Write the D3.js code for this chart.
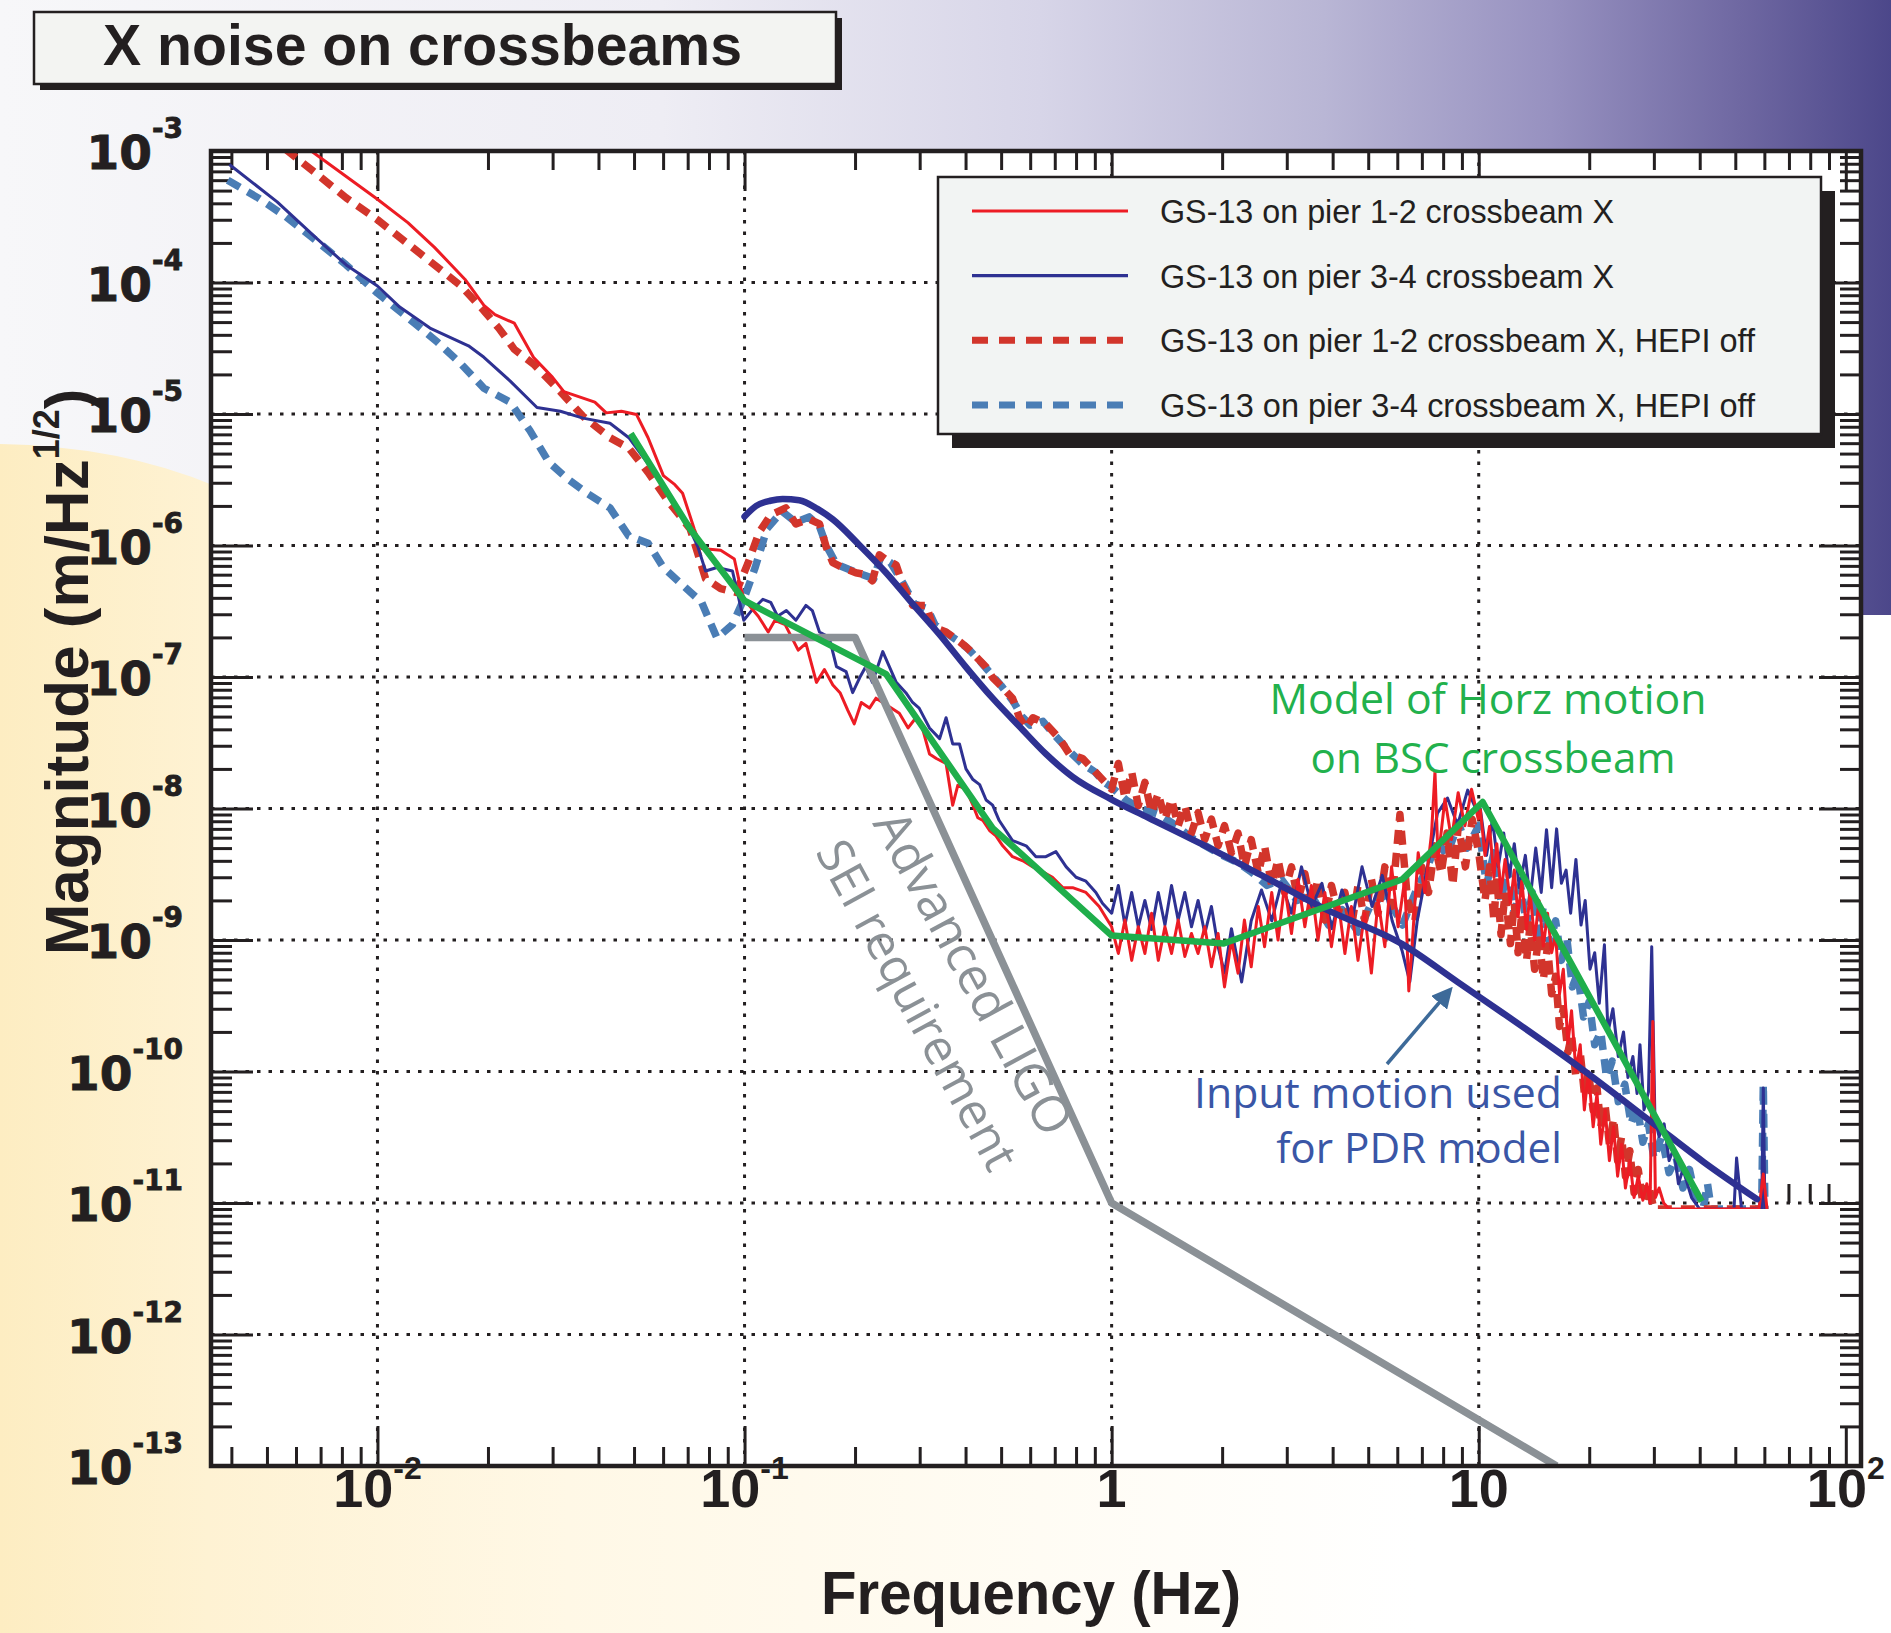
<!DOCTYPE html>
<html>
<head>
<meta charset="utf-8">
<script src="https://cdn.jsdelivr.net/npm/d3@7"></script>
<style>
  html, body { margin: 0; padding: 0; background: #fff; }
  svg { display: block; }
</style>
</head>
<body>
<div id="chart"></div>
<script>
// X noise on crossbeams - GS-13 spectra, values as [Hz, m/rtHz]

const RED_12 = [
  [0.0066,1.0e-3],[0.0100,4.3e-4],[0.0121,2.85e-4],[0.0143,1.85e-4],[0.0173,1.06e-4],[0.0195,6.7e-5],
  [0.0209,5.7e-5],[0.0236,4.9e-5],[0.0266,2.7e-5],[0.030,1.9e-5],[0.0322,1.48e-5],[0.0391,1.23e-5],
  [0.042,1.02e-5],[0.0462,1.05e-5],[0.0508,9.9e-6],[0.0546,6.6e-6],[0.0601,3.4e-6],[0.0646,2.9e-6],
  [0.0678,2.5e-6],[0.0729,1.34e-6],[0.0764,9.5e-7],[0.0861,9.2e-7],[0.0938,7.9e-7],[0.0972,5.0e-7],
  [0.100,3.8e-7],[0.103,3.5e-7],[0.109,2.9e-7],[0.116,2.2e-7],[0.121,2.7e-7],[0.129,2.5e-7],
  [0.140,1.6e-7],[0.147,1.8e-7],[0.157,9.1e-8],[0.165,1.14e-7],[0.174,8.7e-8],[0.182,7.6e-8],
  [0.191,5.6e-8],[0.199,4.4e-8],[0.208,6.4e-8],[0.219,5.8e-8],[0.228,6.9e-8],[0.238,6.4e-8],
  [0.251,5.8e-8],[0.264,5.3e-8],[0.279,4.1e-8],[0.293,4.9e-8],[0.305,4.1e-8],[0.319,2.6e-8],
  [0.333,2.4e-8],[0.354,2.2e-8],[0.369,1.06e-8],[0.381,1.5e-8],[0.401,1.4e-8],[0.419,1.06e-8],
  [0.432,8.5e-9],[0.446,8.1e-9],[0.465,6.8e-9],[0.484,6.2e-9],[0.505,5.2e-9],[0.537,4.3e-9],
  [0.573,4.0e-9],[0.61,3.6e-9],[0.649,3.3e-9],[0.69,3.0e-9],[0.736,2.5e-9],[0.783,2.5e-9],
  [0.851,2.3e-9],[0.925,1.8e-9],
  [1.0,1.26e-9],[1.043,7.9e-10],[1.087,1.42e-9],[1.134,7.0e-10],[1.182,1.26e-9],[1.232,7.9e-10],
  [1.285,1.6e-9],[1.34,7.0e-10],[1.397,1.26e-9],[1.456,7.9e-10],[1.518,1.42e-9],[1.583,7.5e-10],
  [1.65,1.12e-9],[1.72,7.9e-10],[1.794,1.26e-9],[1.87,6.25e-10],[1.95,1.12e-9],[2.03,4.4e-10],
  [2.12,1.0e-9],[2.21,5.6e-10],[2.30,1.42e-9],[2.40,6.25e-10],[2.51,1.8e-9],[2.61,8.9e-10],
  [2.73,2.3e-9],[2.84,1.0e-9],[2.96,2.6e-9],[3.09,1.12e-9],[3.22,2.9e-9],[3.36,1.26e-9],
  [3.50,2.6e-9],[3.65,1.0e-9],[3.81,2.3e-9],[3.97,8.9e-10],[4.14,2.0e-9],[4.32,7.9e-10],
  [4.50,1.8e-9],[4.69,7.0e-10],[4.89,1.6e-9],[5.10,5.6e-10],[5.32,2.0e-9],[5.55,8.9e-10],
  [5.79,3.6e-9],[6.03,1.26e-9],[6.29,2.9e-9],[6.45,4.1e-10],[6.6,1.0e-9],[6.84,4.6e-9],
  [7.13,2.3e-9],[7.44,6.5e-9],[7.6,1.9e-8],[7.75,4.1e-9],[8.09,1.18e-8],[8.43,5.8e-9],
  [8.79,1.32e-8],[9.17,7.4e-9],[9.56,1.4e-8],[9.97,8.3e-9],
  [10.1,9.8e-9],[10.4,4.4e-9],[10.7,7.3e-9],[11.0,3.0e-9],[11.2,5.4e-9],[11.5,2.3e-9],
  [11.8,4.1e-9],[12.2,1.9e-9],[12.5,3.4e-9],[12.8,1.5e-9],[13.1,2.8e-9],[13.5,1.2e-9],
  [13.8,2.3e-9],[14.2,1.0e-9],[14.6,2.0e-9],[15.0,9e-10],[15.4,1.6e-9],[15.8,8e-10],
  [16.2,1.1e-9],[16.6,3.9e-10],[17.0,6e-10],[17.5,1.64e-10],[17.9,2.9e-10],[18.4,1.0e-10],
  [18.9,1.6e-10],[19.4,5.1e-11],[19.9,1.0e-10],[20.5,3.8e-11],[21.0,6.8e-11],[21.5,2.8e-11],
  [22.1,5.1e-11],[22.7,2.1e-11],[23.3,3.8e-11],[23.9,1.6e-11],[24.5,2.8e-11],[25.1,1.3e-11],
  [25.8,2.1e-11],[26.5,1.1e-11],[27.2,1.6e-11],[28,1.05e-11],[28.7,1.4e-11],[29.3,1.0e-11],
  [29.8,2.4e-10],[30.3,1.1e-11],[31,1.3e-11],[31.9,1.0e-11],[33,9e-12],[58,9e-12],[59.6,1.66e-11],[61,9e-12]
];

const BLUE_34 = [
  [0.00395,7.9e-4],[0.00533,4.1e-4],[0.00678,2.2e-4],[0.00822,1.36e-4],[0.0100,9.4e-5],[0.0115,6.5e-5],
  [0.0139,4.5e-5],[0.0177,3.3e-5],[0.0195,2.7e-5],[0.0230,1.78e-5],[0.0272,1.12e-5],[0.0315,1.05e-5],
  [0.0363,9.3e-6],[0.0430,8.5e-6],[0.0484,6.6e-6],[0.0560,3.8e-6],[0.0631,2.3e-6],[0.0695,1.5e-6],
  [0.0746,9.8e-7],[0.0783,6.4e-7],[0.0841,6.8e-7],[0.0927,6.4e-7],[0.0995,2.7e-7],[0.1045,3.2e-7],
  [0.1122,3.9e-7],[0.1178,3.7e-7],[0.123,2.9e-7],[0.130,3.2e-7],[0.138,2.7e-7],[0.147,3.5e-7],
  [0.153,3.2e-7],[0.160,2.2e-7],[0.170,2.0e-7],[0.178,1.2e-7],[0.189,1.1e-7],[0.197,7.6e-8],
  [0.206,9.9e-8],[0.214,1.2e-7],[0.223,9.1e-8],[0.238,1.56e-7],[0.248,1.2e-7],[0.259,9.1e-8],
  [0.275,7.6e-8],[0.287,6.4e-8],[0.299,5.8e-8],[0.319,4.1e-8],[0.340,3.4e-8],[0.354,4.9e-8],
  [0.369,3.1e-8],[0.385,3.1e-8],[0.401,2.0e-8],[0.419,1.66e-8],[0.437,1.52e-8],[0.455,1.16e-8],
  [0.474,1.06e-8],[0.494,8.1e-9],[0.537,5.7e-9],[0.585,5.2e-9],[0.622,4.3e-9],[0.662,4.3e-9],
  [0.705,4.7e-9],[0.752,3.6e-9],[0.80,3.0e-9],[0.851,2.8e-9],[0.906,2.3e-9],[0.944,1.9e-9],
  [1.0,1.6e-9],[1.043,2.6e-9],[1.087,1.3e-9],[1.134,2.3e-9],[1.182,1.26e-9],[1.232,2.0e-9],
  [1.285,1.2e-9],[1.34,2.3e-9],[1.397,1.3e-9],[1.456,2.6e-9],[1.518,1.42e-9],[1.583,2.3e-9],
  [1.65,1.26e-9],[1.72,2.0e-9],[1.794,1.12e-9],[1.87,1.8e-9],[1.95,8.9e-10],[2.03,5.6e-10],
  [2.12,1.22e-9],[2.26,4.8e-10],[2.40,1.4e-9],[2.56,2.4e-9],[2.73,1.4e-9],[2.90,2.7e-9],
  [3.09,1.6e-9],[3.29,3.6e-9],[3.51,1.8e-9],[3.74,2.7e-9],[3.98,1.22e-9],[4.24,2.4e-9],
  [4.52,1.4e-9],[4.81,3.6e-9],[5.12,1.8e-9],[5.46,3.1e-9],[5.81,1.4e-9],[6.19,8.2e-10],
  [6.49,4.8e-10],[6.80,1.4e-9],[7.25,3.6e-9],[7.72,9.2e-9],[8.22,1.2e-8],[8.76,7.5e-9],
  [9.33,1.38e-8],[9.94,9.2e-9],
  [10.1,1.0e-8],[10.5,4.4e-9],[10.9,8.2e-9],[11.3,3.6e-9],[11.7,6.5e-9],[12.1,3.0e-9],
  [12.5,5.4e-9],[12.9,2.5e-9],[13.4,4.4e-9],[13.8,2.0e-9],[14.3,5.0e-9],[14.8,2.3e-9],
  [15.3,6.9e-9],[15.8,2.5e-9],[16.3,7.0e-9],[16.8,2.7e-9],[17.3,3.4e-9],[17.8,1.6e-9],
  [18.4,4.1e-9],[19.0,1.3e-9],[19.5,2.0e-9],[20.1,6e-10],[20.7,8e-10],[21.3,3.3e-10],
  [22.0,9.2e-10],[22.5,2.0e-10],[23.2,3.0e-10],[24,1.3e-10],[24.8,2.0e-10],[25.5,9e-11],
  [26.3,1.3e-10],[27.0,6.8e-11],[27.5,1.6e-10],[28.2,5.1e-11],[29.0,7e-11],[29.6,8.9e-10],
  [30.2,4.4e-11],[31,3.2e-11],[32,4.0e-11],[33,2.1e-11],[34,2.6e-11],[35,1.4e-11],
  [36,1.8e-11],[38,1.1e-11],[40,9e-12],[49.6,9e-12],[50.4,2.2e-11],[52,9e-12],
  [59,9e-12],[59.6,7.5e-11],[60.2,9e-12]
];

const RED_12_OFF = [
  [0.0056,1.04e-3],[0.00678,6.8e-4],[0.00822,4.4e-4],[0.0100,3.0e-4],[0.0121,1.97e-4],[0.0139,1.45e-4],
  [0.0169,9.4e-5],[0.0195,6.1e-5],[0.0214,4.5e-5],[0.0236,3.1e-5],[0.0266,2.4e-5],[0.0315,1.48e-5],
  [0.0363,9.6e-6],[0.0430,6.6e-6],[0.0484,5.5e-6],[0.0546,3.6e-6],[0.0617,2.2e-6],[0.0711,1.34e-6],
  [0.0783,5.6e-7],[0.0861,4.7e-7],[0.0948,4.4e-7],[0.1019,7.2e-7],[0.1096,1.26e-6],[0.1178,1.71e-6],
  [0.1296,1.93e-6],[0.138,1.46e-6],[0.150,1.59e-6],[0.160,1.46e-6],[0.167,9.7e-7],[0.174,7.4e-7],
  [0.185,6.8e-7],[0.201,6.2e-7],[0.214,6.0e-7],[0.223,5.4e-7],[0.233,8.5e-7],[0.243,7.8e-7],
  [0.259,7.1e-7],[0.270,5.0e-7],[0.287,3.5e-7],[0.313,3.5e-7],[0.326,2.4e-7],[0.354,2.2e-7],
  [0.385,1.86e-7],[0.401,1.7e-7],[0.428,1.42e-7],[0.455,1.19e-7],[0.474,9.9e-8],[0.505,8.3e-8],
  [0.537,6.9e-8],[0.561,4.9e-8],[0.585,4.1e-8],[0.61,4.9e-8],[0.662,4.4e-8],[0.721,3.4e-8],
  [0.767,2.6e-8],[0.834,2.4e-8],[0.887,2.0e-8],[0.944,1.66e-8],
  [1.0,1.4e-8],[1.043,2.2e-8],[1.087,1.2e-8],[1.134,1.9e-8],[1.182,1.05e-8],[1.232,1.58e-8],
  [1.285,9.3e-9],[1.34,1.3e-8],[1.397,8.3e-9],[1.456,1.18e-8],[1.518,7.4e-9],[1.583,1.05e-8],
  [1.65,6.5e-9],[1.72,9.3e-9],[1.794,5.8e-9],[1.87,8.3e-9],[1.95,5.2e-9],[2.03,7.4e-9],
  [2.12,4.6e-9],[2.21,6.5e-9],[2.30,3.6e-9],[2.40,5.8e-9],[2.51,3.2e-9],[2.61,5.2e-9],
  [2.73,2.6e-9],[2.84,4.1e-9],[2.96,2.3e-9],[3.09,3.6e-9],[3.22,2.0e-9],[3.36,3.2e-9],
  [3.50,1.8e-9],[3.65,2.9e-9],[3.81,1.42e-9],[3.97,2.6e-9],[4.14,1.6e-9],[4.32,2.3e-9],
  [4.50,1.26e-9],[4.69,2.6e-9],[4.89,1.42e-9],[5.10,2.9e-9],[5.32,1.6e-9],[5.55,3.6e-9],
  [5.79,1.8e-9],[6.1,9e-9],[6.4,2.0e-9],[6.7,1.4e-9],[7.0,3.6e-9],[7.3,2.3e-9],
  [7.6,5.2e-9],[7.9,3.2e-9],[8.2,6.5e-9],[8.5,2.6e-9],[8.8,7.4e-9],[9.2,3.6e-9],
  [9.6,8.3e-9],[10.0,4.6e-9],
  [10.4,2.0e-9],[10.7,3.6e-9],[11.0,1.4e-9],[11.2,3.0e-9],[11.5,1.1e-9],[11.8,2.3e-9],
  [12.2,9.4e-10],[12.5,1.9e-9],[12.8,8e-10],[13.1,1.6e-9],[13.5,7e-10],[13.8,1.3e-9],
  [14.2,6e-10],[14.6,1.1e-9],[15.0,5e-10],[15.4,9e-10],[15.8,3.9e-10],[16.2,5.3e-10],
  [16.6,2.2e-10],[17.0,3.0e-10],[17.5,1.4e-10],[17.9,1.9e-10],[18.4,9e-11],[18.9,1.4e-10],
  [19.4,6.8e-11],[19.9,1.0e-10],[20.5,5.1e-11],[21.0,7.5e-11],[21.5,3.8e-11],[22.1,5.5e-11],
  [22.7,2.8e-11],[23.3,4.4e-11],[23.9,2.1e-11],[24.5,3.2e-11],[25.1,1.6e-11],[25.8,2.5e-11],
  [26.5,1.2e-11],[27.2,1.8e-11],[28,1.0e-11],[29,1.4e-11],[30,9e-12],[60,9e-12]
];

const BLUE_34_OFF = [
  [0.00391,6.0e-4],[0.00473,4.4e-4],[0.0056,3.2e-4],[0.00678,2.1e-4],[0.00822,1.36e-4],[0.0100,8.3e-5],
  [0.0121,5.4e-5],[0.0146,3.5e-5],[0.0169,2.4e-5],[0.0195,1.57e-5],[0.0230,1.23e-5],[0.0260,7.5e-6],
  [0.0293,4.3e-6],[0.0330,3.2e-6],[0.0372,2.5e-6],[0.0430,1.93e-6],[0.0484,1.18e-6],[0.0546,1.04e-6],
  [0.0601,6.8e-7],[0.0678,5.0e-7],[0.0764,3.7e-7],[0.0841,1.98e-7],[0.0927,2.5e-7],[0.0995,3.9e-7],
  [0.1069,6.8e-7],[0.1151,1.34e-6],[0.1265,1.82e-6],[0.138,1.5e-6],[0.150,1.65e-6],[0.160,1.4e-6],
  [0.167,1.0e-6],[0.178,7.2e-7],[0.192,6.6e-7],[0.21,6.0e-7],[0.225,5.6e-7],[0.235,8.2e-7],
  [0.25,7.4e-7],[0.27,5.2e-7],[0.29,3.6e-7],[0.315,3.3e-7],[0.33,2.5e-7],[0.36,2.1e-7],
  [0.39,1.8e-7],[0.41,1.6e-7],[0.44,1.3e-7],[0.47,1.05e-7],[0.5,8.6e-8],[0.54,6.5e-8],
  [0.57,5.0e-8],[0.6,4.3e-8],[0.65,4.6e-8],[0.7,3.6e-8],[0.77,2.7e-8],[0.83,2.2e-8],
  [0.9,1.9e-8],[0.95,1.6e-8],[1.0,1.45e-8],[1.1,1.15e-8],[1.2,1.0e-8],[1.35,9.0e-9],
  [1.5,7.4e-9],[1.65,6.0e-9],[1.8,5.2e-9],[2.0,4.4e-9],[2.2,3.9e-9],[2.4,3.3e-9],
  [2.65,2.6e-9],[2.9,2.9e-9],[3.2,2.0e-9],[3.5,2.2e-9],[3.9,1.3e-9],[4.25,1.7e-9],
  [4.7,1.15e-9],[5.1,1.9e-9],[5.6,2.2e-9],[6.2,1.3e-9],[6.8,2.5e-9],[7.2,3.4e-9],
  [7.7,5.6e-9],[8.2,4.4e-9],[8.8,7.8e-9],[9.3,5.0e-9],[10,7.4e-9],
  [10.1,6.0e-9],[10.5,2.6e-9],[11.0,4.6e-9],[11.5,2.0e-9],[12.0,3.6e-9],[12.5,1.6e-9],
  [13.0,2.6e-9],[13.5,1.3e-9],[14.0,2.3e-9],[14.5,1.1e-9],[15.0,1.8e-9],[15.6,9.4e-10],
  [16.2,1.4e-9],[16.8,7.0e-10],[17.4,1.0e-9],[18.0,4.4e-10],[18.6,5.6e-10],[19.3,2.6e-10],
  [20.0,3.4e-10],[20.7,1.6e-10],[21.5,2.0e-10],[22.3,9e-11],[23.1,1.2e-10],[24.0,5.9e-11],
  [25.0,8.0e-11],[26.0,4.0e-11],[27.0,5.5e-11],[28.0,2.9e-11],[29.0,4.0e-11],[30,2.2e-11],
  [31.5,3.2e-11],[33,1.7e-11],[34.5,2.2e-11],[36,1.3e-11],[37.5,1.8e-11],[39,1.1e-11],
  [40.4,7.5e-12],[42,1.4e-11],[43,9e-12],[59,9e-12],[59.6,8e-11],[60.2,9e-12]
];

// input motion used for PDR model (smooth)
const PDR_INPUT = [
  [0.1,1.66e-6],[0.1076,2.0e-6],[0.1175,2.19e-6],[0.127,2.26e-6],[0.141,2.21e-6],[0.158,1.9e-6],
  [0.174,1.58e-6],[0.206,1.0e-6],[0.243,6.2e-7],[0.287,3.6e-7],[0.34,2.1e-7],[0.40,1.2e-7],
  [0.474,6.9e-8],[0.561,4.2e-8],[0.662,2.6e-8],[0.783,1.74e-8],[1.0,1.17e-8],[1.26,8.5e-9],
  [1.75,5.4e-9],[2.51,3.2e-9],[3.85,1.7e-9],[6.19,9.3e-10],[8.75,4.8e-10],[11.6,2.8e-10],
  [18.7,1.09e-10],[30,4.0e-11],[41.1,2.04e-11],[57.3,1.07e-11]
];

// model of horizontal motion on BSC crossbeam
const HORZ_MODEL = [
  [0.049,7.1e-6],[0.071,1.34e-6],[0.1,3.8e-7],[0.243,1.05e-7],[0.474,7.1e-9],[1.0,1.08e-9],
  [2.02,9.4e-10],[6.2,2.9e-9],[10.25,1.12e-8],[40.5,1.03e-11]
];

// Advanced LIGO SEI requirement
const SEI_REQ = [[0.1,2e-7],[0.2,2e-7],[1,1e-11],[16.3,1e-13]];

const X_DECADES = [0.01, 0.1, 1, 10, 100];
const X_LABELS = [['10','-2'],['10','-1'],['1',''],['10',''],['10','2']];
const Y_EXPONENTS = [-3,-4,-5,-6,-7,-8,-9,-10,-11,-12,-13];
const OLD_AXIS_TICKS = [70, 80, 90];   // leftover ticks of the original 1e-11 axis

const LEGEND = [
  {name: 'GS-13 on pier 1-2 crossbeam X', color: '#ed1c24', width: 3, dash: null},
  {name: 'GS-13 on pier 3-4 crossbeam X', color: '#2e3192', width: 3, dash: null},
  {name: 'GS-13 on pier 1-2 crossbeam X, HEPI off', color: '#d2352b', width: 7.5, dash: '14,9'},
  {name: 'GS-13 on pier 3-4 crossbeam X, HEPI off', color: '#4a7db5', width: 7.5, dash: '14,9'}
];

const W = 1891, H = 1633;
const P = {left: 211, right: 1861, top: 151, bottom: 1466};
const INK = '#231f20';
const NARROW = '"Liberation Sans Narrow", "Liberation Sans", Arial, sans-serif';
const HUMAN = '"Open Sans", Lato, "Noto Sans", sans-serif';

const x = d3.scaleLog().domain([0.00352, 110]).range([P.left, P.right]);
const y = d3.scaleLog().domain([1e-13, 1e-3]).range([P.bottom, P.top]);

const svg = d3.select('#chart').append('svg')
  .attr('width', W).attr('height', H);

const defs = svg.append('defs');

const topGrad = defs.append('linearGradient').attr('id', 'topGrad')
  .attr('gradientUnits', 'userSpaceOnUse').attr('x1', 0).attr('x2', W).attr('y1', 0).attr('y2', 0);
[[0,'#f7f7f9'],[0.35,'#eeedf4'],[0.55,'#d7d5e8'],[0.7,'#b9b6d5'],[0.82,'#9791c0'],[0.92,'#6f68a2'],[1,'#4c478a']]
  .forEach(s => topGrad.append('stop').attr('offset', s[0]).attr('stop-color', s[1]));

const creamGrad = defs.append('linearGradient').attr('id', 'creamGrad')
  .attr('gradientUnits', 'userSpaceOnUse').attr('x1', 0).attr('x2', W).attr('y1', 0).attr('y2', 0);
[[0,'#fdedc2'],[0.11,'#fef2d3'],[0.3,'#fff8e6'],[0.55,'#fffcf4'],[0.75,'#ffffff']]
  .forEach(s => creamGrad.append('stop').attr('offset', s[0]).attr('stop-color', s[1]));

defs.append('clipPath').attr('id', 'plotClip').append('rect')
  .attr('x', P.left).attr('y', P.top).attr('width', P.right - P.left).attr('height', P.bottom - P.top);
// the measured spectra were plotted on an axis that stopped at 1e-11
defs.append('clipPath').attr('id', 'dataClip').append('rect')
  .attr('x', P.left).attr('y', P.top).attr('width', P.right - P.left).attr('height', y(1e-11) - P.top + 6);

defs.append('marker').attr('id', 'arrow').attr('viewBox', '0 0 10 10')
  .attr('refX', 8).attr('refY', 5).attr('markerWidth', 6).attr('markerHeight', 6)
  .attr('markerUnits', 'strokeWidth').attr('orient', 'auto')
  .append('path').attr('d', 'M0,0 L10,5 L0,10 Z').attr('fill', '#3d6a99');

// background
svg.append('rect').attr('width', W).attr('height', H).attr('fill', '#fff');
svg.append('rect').attr('width', W).attr('height', 615).attr('fill', 'url(#topGrad)');
svg.append('path').attr('d', 'M0,444 Q120,446 215,486 L215,1633 L0,1633 Z').attr('fill', 'url(#creamGrad)');
svg.append('rect').attr('x', 0).attr('y', P.bottom).attr('width', W).attr('height', H - P.bottom)
  .attr('fill', 'url(#creamGrad)');
svg.append('rect').attr('x', P.left).attr('y', P.top)
  .attr('width', P.right - P.left).attr('height', P.bottom - P.top).attr('fill', '#fff');

// grid
const grid = svg.append('g').attr('stroke', INK).attr('stroke-width', 3).attr('stroke-dasharray', '3.5,8');
grid.selectAll('.vg').data(X_DECADES.filter(d => d < 100)).enter().append('line')
  .attr('x1', d => x(d)).attr('x2', d => x(d)).attr('y1', P.top).attr('y2', P.bottom);
grid.selectAll('.hg').data(Y_EXPONENTS.slice(1, -1)).enter().append('line')
  .attr('y1', d => y(Math.pow(10, d))).attr('y2', d => y(Math.pow(10, d)))
  .attr('x1', P.left).attr('x2', P.right);

// ticks, all pointing inward
const minorX = [], minorY = [];
for (let e = -3; e <= 2; e++) for (let m = 2; m <= 9; m++) {
  const v = m * Math.pow(10, e);
  if (v > x.domain()[0] && v < x.domain()[1]) minorX.push(v);
}
for (let e = -13; e < -3; e++) for (let m = 2; m <= 9; m++) minorY.push(m * Math.pow(10, e));
const majorY = Y_EXPONENTS.map(e => Math.pow(10, e));

function tickLayer(axis, transform) {
  const g = svg.append('g').attr('transform', transform).call(axis);
  g.select('.domain').remove();
  g.selectAll('.tick line').attr('stroke', INK).attr('stroke-width', 3);
  return g;
}
tickLayer(d3.axisBottom(x).tickValues(minorX).tickSize(-19).tickFormat(''), `translate(0,${P.bottom})`);
tickLayer(d3.axisBottom(x).tickValues(X_DECADES).tickSize(-40).tickFormat(''), `translate(0,${P.bottom})`);
tickLayer(d3.axisTop(x).tickValues(minorX).tickSize(-19).tickFormat(''), `translate(0,${P.top})`);
tickLayer(d3.axisTop(x).tickValues(X_DECADES).tickSize(-40).tickFormat(''), `translate(0,${P.top})`);
tickLayer(d3.axisLeft(y).tickValues(minorY).tickSize(-21).tickFormat(''), `translate(${P.left},0)`);
tickLayer(d3.axisLeft(y).tickValues(majorY).tickSize(-42).tickFormat(''), `translate(${P.left},0)`);
tickLayer(d3.axisRight(y).tickValues(minorY).tickSize(-21).tickFormat(''), `translate(${P.right},0)`);
tickLayer(d3.axisRight(y).tickValues(majorY).tickSize(-42).tickFormat(''), `translate(${P.right},0)`);

svg.append('g').selectAll('line').data(OLD_AXIS_TICKS).enter().append('line')
  .attr('x1', d => x(d)).attr('x2', d => x(d))
  .attr('y1', y(1e-11)).attr('y2', y(1e-11) - 19)
  .attr('stroke', INK).attr('stroke-width', 3);

// curves
const line = d3.line().x(d => x(d[0])).y(d => y(d[1]));
const smooth = d3.line().x(d => x(d[0])).y(d => y(d[1])).curve(d3.curveMonotoneX);

const dataG = svg.append('g').attr('clip-path', 'url(#dataClip)').attr('fill', 'none')
  .attr('stroke-linejoin', 'round');
const series = [[BLUE_34_OFF, LEGEND[3]], [RED_12_OFF, LEGEND[2]], [BLUE_34, LEGEND[1]], [RED_12, LEGEND[0]]];
series.forEach(([data, s]) => {
  dataG.append('path').datum(data).attr('d', line)
    .attr('stroke', s.color).attr('stroke-width', s.width)
    .attr('stroke-dasharray', s.dash);
});

const modelG = svg.append('g').attr('clip-path', 'url(#plotClip)').attr('fill', 'none')
  .attr('stroke-linejoin', 'round');
modelG.append('path').datum(SEI_REQ).attr('d', line)
  .attr('stroke', '#8b9196').attr('stroke-width', 7.5);
modelG.append('path').datum(PDR_INPUT).attr('d', smooth)
  .attr('stroke', '#2e3192').attr('stroke-width', 6.5).attr('stroke-linecap', 'round');
modelG.append('path').datum(HORZ_MODEL).attr('d', line)
  .attr('stroke', '#1fae4b').attr('stroke-width', 6.5);

// frame
svg.append('rect').attr('x', P.left).attr('y', P.top)
  .attr('width', P.right - P.left).attr('height', P.bottom - P.top)
  .attr('fill', 'none').attr('stroke', INK).attr('stroke-width', 4.5);

// fit a text element's font size to a measured width
function fitWidth(sel, width) {
  const w = sel.node().getComputedTextLength();
  sel.attr('font-size', +sel.attr('font-size') * width / w);
  return sel;
}

// annotations
const req = [['Advanced LIGO', 975, 972, 360], ['SEI requirement', 919, 1004, 367]];
req.forEach(r => {
  const t = svg.append('text').attr('transform', `translate(${r[1]},${r[2]}) rotate(61.5)`)
    .attr('text-anchor', 'middle').attr('dominant-baseline', 'central')
    .attr('font-family', HUMAN).attr('font-size', 48).attr('fill', '#8b9196').text(r[0]);
  fitWidth(t, r[3]);
});

[['Model of Horz motion', 1488, 697, 437], ['on BSC crossbeam', 1493, 756, 365]].forEach(r => {
  const t = svg.append('text').attr('x', r[1]).attr('y', r[2])
    .attr('text-anchor', 'middle').attr('dominant-baseline', 'central')
    .attr('font-family', HUMAN).attr('font-size', 44).attr('fill', '#22b14c').text(r[0]);
  fitWidth(t, r[3]);
});

[['Input motion used', 1091, 368], ['for PDR model', 1146, 286]].forEach(r => {
  const t = svg.append('text').attr('x', 1562).attr('y', r[1])
    .attr('text-anchor', 'end').attr('dominant-baseline', 'central')
    .attr('font-family', HUMAN).attr('font-size', 44).attr('fill', '#3a56a6').text(r[0]);
  fitWidth(t, r[2]);
});

svg.append('line').attr('x1', 1387).attr('y1', 1064).attr('x2', 1450).attr('y2', 990)
  .attr('stroke', '#3d6a99').attr('stroke-width', 3.5).attr('marker-end', 'url(#arrow)');

// legend
const lg = svg.append('g');
const LB = {x: 938, y: 177, w: 883, h: 257};
lg.append('rect').attr('x', LB.x + 14).attr('y', LB.y + 14).attr('width', LB.w).attr('height', LB.h).attr('fill', INK);
lg.append('rect').attr('x', LB.x).attr('y', LB.y).attr('width', LB.w).attr('height', LB.h)
  .attr('fill', '#f2f4f3').attr('stroke', INK).attr('stroke-width', 2.5);
const rowY = d3.scalePoint().domain(d3.range(LEGEND.length)).range([211, 405]);
const textW = [454, 454, 595, 595];
LEGEND.forEach((s, i) => {
  lg.append('line').attr('x1', 972).attr('x2', 1128).attr('y1', rowY(i)).attr('y2', rowY(i))
    .attr('stroke', s.color).attr('stroke-width', s.dash ? 7 : 3.2).attr('stroke-dasharray', s.dash ? '16,11' : null);
  lg.append('text').attr('x', 1160).attr('y', rowY(i) + 12)
    .attr('font-family', NARROW).attr('font-size', 33).attr('fill', INK)
    .attr('textLength', textW[i]).attr('lengthAdjust', 'spacingAndGlyphs').text(s.name);
});

// title box
svg.append('rect').attr('x', 40).attr('y', 18).attr('width', 802).attr('height', 72).attr('fill', INK);
svg.append('rect').attr('x', 34).attr('y', 12).attr('width', 802).attr('height', 72)
  .attr('fill', '#f3f4f2').attr('stroke', INK).attr('stroke-width', 2.5);
svg.append('text').attr('x', 103).attr('y', 65)
  .attr('font-family', NARROW).attr('font-weight', 'bold').attr('font-size', 58).attr('fill', INK)
  .attr('textLength', 639).attr('lengthAdjust', 'spacingAndGlyphs').text('X noise on crossbeams');

// y tick labels
Y_EXPONENTS.forEach(e => {
  const t = svg.append('text').attr('x', 183).attr('y', y(Math.pow(10, e)) + 18)
    .attr('text-anchor', 'end').attr('font-family', '"DejaVu Sans", sans-serif')
    .attr('font-weight', 'bold').attr('fill', INK).attr('stroke', INK).attr('stroke-width', 0.8);
  t.append('tspan').attr('font-size', 47).text('10');
  t.append('tspan').attr('font-size', 28).attr('dy', -31).text(String(e));
});

// x tick labels
X_DECADES.forEach((v, i) => {
  const t = svg.append('text').attr('x', x(v)).attr('y', 1507)
    .attr('text-anchor', 'middle').attr('font-family', NARROW)
    .attr('font-weight', 'bold').attr('fill', INK);
  t.append('tspan').attr('font-size', 54).text(X_LABELS[i][0]);
  if (X_LABELS[i][1]) t.append('tspan').attr('font-size', 32).attr('dy', -28).text(X_LABELS[i][1]);
});

// axis titles
svg.append('text').attr('x', 1031).attr('y', 1614).attr('text-anchor', 'middle')
  .attr('font-family', NARROW).attr('font-weight', 'bold').attr('font-size', 62).attr('fill', INK)
  .attr('textLength', 420).attr('lengthAdjust', 'spacingAndGlyphs').text('Frequency (Hz)');

const yt = svg.append('text').attr('transform', 'translate(88,672) rotate(-90)')
  .attr('text-anchor', 'middle').attr('font-family', NARROW).attr('font-weight', 'bold').attr('fill', INK);
yt.append('tspan').attr('font-size', 62).text('Magnitude (m/Hz');
yt.append('tspan').attr('font-size', 36).attr('dy', -29).text('1/2');
yt.append('tspan').attr('font-size', 62).attr('dy', 29).text(')');
</script>
</body>
</html>
